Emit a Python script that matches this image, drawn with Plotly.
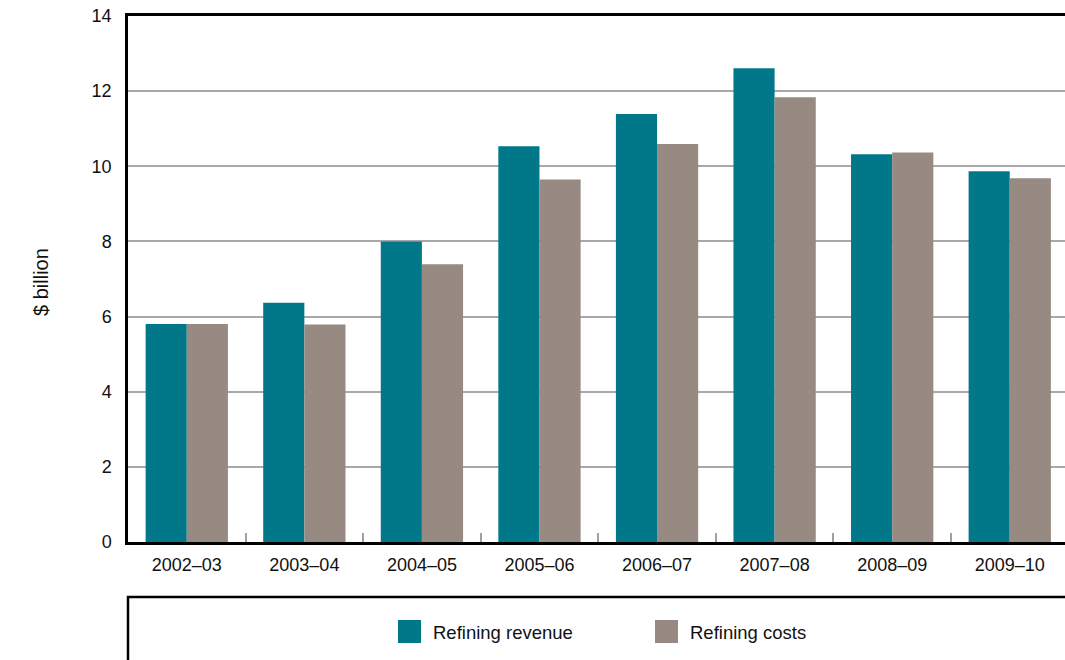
import plotly.graph_objects as go

years = ["2002–03", "2003–04", "2004–05", "2005–06", "2006–07", "2007–08", "2008–09", "2009–10"]
revenue = [5.8, 6.37, 8.0, 10.53, 11.39, 12.61, 10.32, 9.87]
costs = [5.8, 5.79, 7.39, 9.65, 10.59, 11.84, 10.37, 9.68]
series_names = ["Refining revenue", "Refining costs"]
colors = ["#00788A", "#978A82"]

W, H = 1065, 660
L, R, T, B = 128, 0, 16, 118
FONT = "Liberation Sans, Arial, sans-serif"

def px(x):
    return (x - L) / (W - L - R)

def py(y):
    return (H - B - y) / (H - T - B)

fig = go.Figure()
fig.add_trace(go.Bar(x=years, y=revenue, name=series_names[0], marker_color=colors[0],
                     marker_line_width=0, showlegend=False))
fig.add_trace(go.Bar(x=years, y=costs, name=series_names[1], marker_color=colors[1],
                     marker_line_width=0, showlegend=False))

shapes = [
    dict(type="rect", xref="paper", yref="paper", x0=px(128), x1=px(1200), y0=py(720), y1=py(597),
         line=dict(color="black", width=2.5), fillcolor="rgba(0,0,0,0)"),
]
annotations = []
legend_pos = [(398, 431), (655, 688)]
for (sx, tx), name, c in zip(legend_pos, series_names, colors):
    shapes.append(dict(type="rect", xref="paper", yref="paper", x0=px(sx), x1=px(sx + 23),
                       y0=py(643), y1=py(620), line=dict(width=0), fillcolor=c))
    annotations.append(dict(text=name, xref="paper", yref="paper", x=px(tx), y=py(632),
                            xanchor="left", yanchor="middle", showarrow=False,
                            font=dict(size=18.5, color="#111111", family=FONT)))
annotations.append(dict(text="$ billion", xref="paper", yref="paper", x=px(41), y=py(282),
                        textangle=-90, xanchor="center", yanchor="middle", showarrow=False,
                        font=dict(size=20, color="#111111", family=FONT)))

fig.update_layout(
    width=W, height=H,
    margin=dict(l=L, r=R, t=T, b=B, pad=0),
    plot_bgcolor="white", paper_bgcolor="white",
    barmode="group", bargap=0.3, bargroupgap=0,
    font=dict(family=FONT, size=18, color="#111111"),
    shapes=shapes, annotations=annotations,
    showlegend=False,
)
fig.update_xaxes(
    range=[-0.5, 7.47], showline=True, linecolor="black", linewidth=2.5, mirror=True,
    ticks="inside", tickson="boundaries", ticklen=9, tickcolor="#a0a0a0", tickwidth=1.5,
    showgrid=False, ticklabelstandoff=5, tickfont=dict(size=18),
)
fig.update_yaxes(
    range=[0, 14], dtick=2, showline=True, linecolor="black", linewidth=2.5,
    showgrid=True, gridcolor="#a8a8a8", gridwidth=1.5, zeroline=False,
    ticks="", ticklabelstandoff=10, tickfont=dict(size=18),
)

fig.write_html(
    "out.html",
    config={"displayModeBar": False},
    post_script="document.body.style.margin='0';document.body.style.overflow='hidden';",
)
